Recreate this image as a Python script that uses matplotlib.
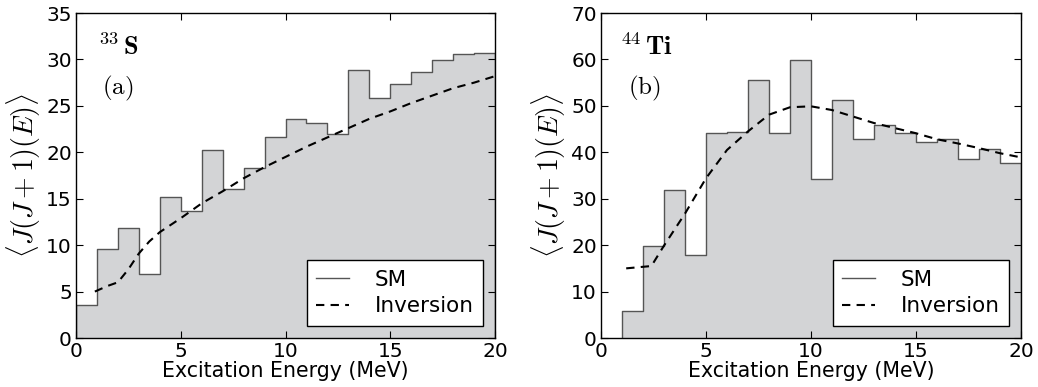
import numpy as np
import matplotlib
matplotlib.use("Agg")
import matplotlib.pyplot as plt
from matplotlib.lines import Line2D

plt.rcParams['mathtext.fontset'] = 'cm'
plt.rcParams['font.family'] = 'DejaVu Sans'

bin_edges = list(range(0, 21))

# 33S shell-model histogram (per 1 MeV bin)
s33_sm = [3.6, 9.6, 11.9, 6.9, 15.2, 13.7, 20.2, 16.1, 18.3, 21.7,
          23.6, 23.2, 22.0, 28.9, 25.8, 27.4, 28.6, 29.9, 30.6, 30.7]
s33_inv_x = [0.9, 1.5, 2.0, 2.5, 3.0, 3.5, 4.0, 5.0, 6.0, 7.0, 8.0, 9.0, 10.0,
             11.0, 12.0, 13.0, 14.0, 15.0, 16.0, 17.0, 18.0, 19.0, 20.0]
s33_inv_y = [5.0, 5.6, 6.0, 7.4, 9.1, 10.4, 11.4, 12.9, 14.5, 15.8, 17.2, 18.4, 19.5,
             20.6, 21.6, 22.6, 23.6, 24.4, 25.3, 26.1, 26.9, 27.5, 28.2]

# 44Ti shell-model histogram
ti44_sm = [0.0, 5.9, 19.9, 31.9, 17.8, 44.1, 44.3, 55.6, 44.1, 59.9,
           34.2, 51.3, 42.9, 45.8, 44.1, 42.2, 42.9, 38.5, 40.7, 37.6]
ti44_inv_x = [1.2, 2.4, 3.0, 4.0, 5.0, 6.0, 7.0, 8.0, 9.0, 10.0, 11.0, 12.0,
              13.0, 14.0, 15.0, 16.0, 17.0, 18.0, 19.0, 20.0]
ti44_inv_y = [15.0, 15.5, 19.9, 26.8, 34.4, 40.5, 44.5, 48.1, 49.7, 49.9, 49.1, 47.7,
              46.3, 45.2, 44.1, 42.8, 41.9, 40.9, 39.8, 38.9]

fig = plt.figure(figsize=(10.38, 3.87), dpi=100)
ax1 = fig.add_axes([76/1038, 1-338/387, 419/1038, 325/387])
ax2 = fig.add_axes([601/1038, 1-338/387, 420/1038, 325/387])

fill_c = '#d3d4d6'
edge_c = '#555555'

def draw(ax, sm, ix, iy, ymax, nuc, lab, nx, lx, skip_zero=False):
    edges = np.array(bin_edges, dtype=float)
    vals = np.array(sm, dtype=float)
    start = 1 if skip_zero else 0
    e = edges[start:]
    v = vals[start:]
    xs = np.repeat(e, 2)[1:-1]
    ys = np.repeat(v, 2)
    xs = np.concatenate([[e[0]], xs, [e[-1]]])
    ys = np.concatenate([[0], ys, [0]])
    ax.fill(xs, ys, color=fill_c, lw=0, zorder=1)
    ax.plot(xs, ys, color=edge_c, lw=1.0, zorder=2)
    ax.plot(ix, iy, color='black', ls='--', lw=1.5, dashes=(4, 3), zorder=3)
    ax.set_xlim(0, 20)
    ax.set_ylim(0, ymax)
    ax.set_xticks([0, 5, 10, 15, 20])
    ax.tick_params(direction='in', top=True, right=True, labelsize=14.5, length=5, pad=3)
    ax.set_xlabel('Excitation Energy (MeV)', fontsize=14.8, labelpad=0)
    ax.set_ylabel(r'$\langle J(J+1)(E)\rangle$', fontsize=20, labelpad=2)
    ax.text(nx, 0.87, nuc, transform=ax.transAxes, fontsize=19)
    ax.text(lx, 0.75, lab, transform=ax.transAxes, fontsize=18)
    handles = [Line2D([], [], color=edge_c, lw=1.0),
               Line2D([], [], color='black', ls='--', lw=1.5, dashes=(4, 3))]
    leg = ax.legend(handles, ['SM', 'Inversion'], loc='lower right', fontsize=15.5,
                    fancybox=False, framealpha=1, edgecolor='black',
                    borderaxespad=0.55, handlelength=1.5, handletextpad=1.2,
                    borderpad=0.45, labelspacing=0.3)
    leg.get_frame().set_linewidth(1.0)
    for s in ax.spines.values():
        s.set_linewidth(1.0)

draw(ax1, s33_sm, s33_inv_x, s33_inv_y, 35, r'$^{33}\,\mathbf{S}$', r'$\mathrm{(a)}$', 0.053, 0.062)
draw(ax2, ti44_sm, ti44_inv_x, ti44_inv_y, 70, r'$^{44}\,\mathbf{Ti}$', r'$\mathrm{(b)}$', 0.045, 0.064,
     skip_zero=True)

fig.savefig('out.png', dpi=100)
